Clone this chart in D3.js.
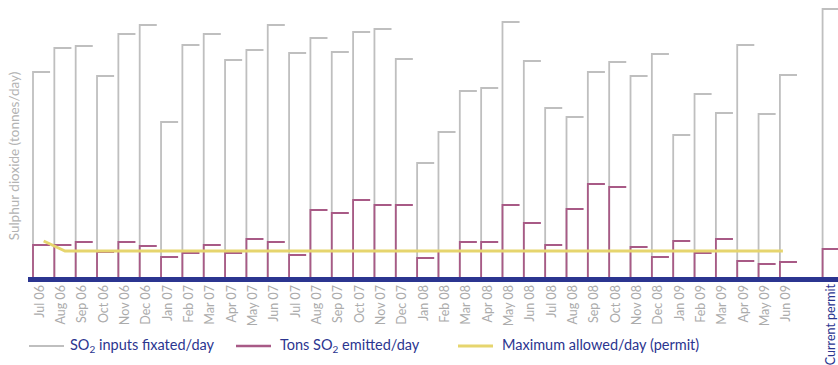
<!DOCTYPE html>
<html>
<head>
<meta charset="utf-8">
<script src="https://cdn.jsdelivr.net/npm/d3@7"></script>
<style>
  html, body { margin: 0; padding: 0; background: #fff; }
  svg { display: block; font-family: Lato, "Open Sans", sans-serif; }
</style>
</head>
<body>
<svg id="chart" width="838" height="365"></svg>
<script>
// ---- Data (tonnes/day, approximate) ----
const months = ["Jul 06","Aug 06","Sep 06","Oct 06","Nov 06","Dec 06",
  "Jan 07","Feb 07","Mar 07","Apr 07","May 07","Jun 07","Jul 07","Aug 07","Sep 07","Oct 07","Nov 07","Dec 07",
  "Jan 08","Feb 08","Mar 08","Apr 08","May 08","Jun 08","Jul 08","Aug 08","Sep 08","Oct 08","Nov 08","Dec 08",
  "Jan 09","Feb 09","Mar 09","Apr 09","May 09","Jun 09"];
const permitCategory = "Current permit";

const inputsFixated = [206,230,232,202,244,253,
  156,233,244,218,228,253,225,240,226,246,249,219,
  115,146,187,190,256,217,170,161,206,216,202,224,
  143,184,165,233,164,203];
const emitted = [33,33,36,26,36,32,
  21,25,33,25,39,36,23,68,65,78,73,73,
  20,27,36,36,73,55,33,69,94,91,31,21,
  37,25,39,17,14,16];
const permitInputs = 269;
const permitEmitted = 29;

const maxAllowed = [37,27,27,27,27,27,
  27,27,27,27,27,27,27,27,27,27,27,27,
  27,27,27,27,27,27,27,27,27,27,27,27,
  27,27,27,27,27,27];

const legendLabels = [
  {key: "inputs", pre: "SO", sub: "2", post: " inputs fixated/day"},
  {key: "emitted", pre: "Tons SO", sub: "2", post: " emitted/day"},
  {key: "permit", pre: "Maximum allowed/day (permit)", sub: "", post: ""}
];
const yTitle = "Sulphur dioxide (tonnes/day)";

// ---- Styles ----
const C = { gray: "#bfbfbf", purple: "#a85a86", yellow: "#e6d56e", blue: "#2b3590", label: "#ababab" };

const svg = d3.select("#chart");
const baseY = 278;

const domain = [...months, "__gap__", permitCategory];
const x = d3.scaleBand().domain(domain).range([33, 33 + domain.length * 21.34]).paddingInner(0).paddingOuter(0);
const y = d3.scaleLinear().domain([0, 270]).range([baseY, 8]);
const segW = x.step() * 0.8;

const inputData = months.map((m, i) => ({cat: m, v: inputsFixated[i]})).concat([{cat: permitCategory, v: permitInputs}]);
const emitData = months.map((m, i) => ({cat: m, v: emitted[i]})).concat([{cat: permitCategory, v: permitEmitted}]);

function stepPath(d) {
  const x0 = x(d.cat);
  return `M${x0},${baseY}V${y(d.v)}H${x0 + segW}`;
}

// gray inputs
svg.append("g").selectAll("path").data(inputData).join("path")
  .attr("d", stepPath).attr("fill", "none").attr("stroke", C.gray).attr("stroke-width", 1.8);

// purple emitted
svg.append("g").selectAll("path").data(emitData).join("path")
  .attr("d", stepPath).attr("fill", "none").attr("stroke", C.purple).attr("stroke-width", 1.8);

// permit line
const line = d3.line()
  .x((d, i) => x(months[i]) + (i === maxAllowed.length - 1 ? 3 : x.step() / 2))
  .y(d => y(d));
svg.append("path").datum(maxAllowed).attr("d", line)
  .attr("fill", "none").attr("stroke", C.yellow).attr("stroke-width", 3);

// baseline bar
svg.append("rect").attr("x", 28).attr("y", baseY - 1).attr("width", 838 - 28).attr("height", 5).attr("fill", C.blue);

// x tick labels
svg.append("g").selectAll("text").data(months).join("text")
  .attr("transform", d => `translate(${x(d) + 6},285) rotate(-90)`)
  .attr("text-anchor", "end").attr("dominant-baseline", "central")
  .attr("font-size", 12.5).attr("fill", C.label).text(d => d);

svg.append("text")
  .attr("transform", `translate(${x(permitCategory) + 8},284) rotate(-90)`)
  .attr("text-anchor", "end").attr("dominant-baseline", "central")
  .attr("font-size", 12.5).attr("fill", C.blue).text(permitCategory);

// y title
svg.append("text")
  .attr("transform", `translate(14,156) rotate(-90)`)
  .attr("text-anchor", "middle").attr("dominant-baseline", "central")
  .attr("font-size", 13.5).attr("fill", "#b3b3b3").text(yTitle);

// legend
const legendPos = [
  {lx: 29, tx: 70, color: C.gray, w: 1.8},
  {lx: 236, tx: 280, color: C.purple, w: 2.5},
  {lx: 458, tx: 502, color: C.yellow, w: 3}
];
legendLabels.forEach((L, i) => {
  const p = legendPos[i];
  svg.append("line").attr("x1", p.lx).attr("x2", p.lx + 35).attr("y1", 346).attr("y2", 346)
    .attr("stroke", p.color).attr("stroke-width", p.w);
  const t = svg.append("text").attr("x", p.tx).attr("y", 350).attr("font-size", 14.5).attr("fill", C.blue);
  t.append("tspan").text(L.pre);
  if (L.sub) {
    t.append("tspan").attr("font-size", 10).attr("dy", 3).text(L.sub);
    t.append("tspan").attr("dy", -3).text(L.post);
  }
});
</script>
</body>
</html>
